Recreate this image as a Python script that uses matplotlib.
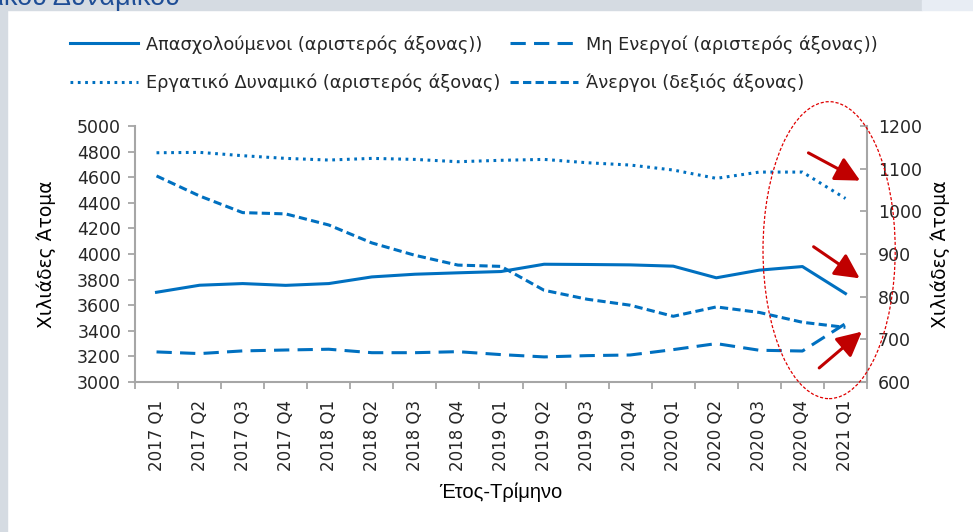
import matplotlib
matplotlib.use("Agg")
import matplotlib.pyplot as plt
from matplotlib.patches import Ellipse, Rectangle
import numpy as np

# --- datos (miles de personas) ---
quarters = ["2017 Q1", "2017 Q2", "2017 Q3", "2017 Q4",
            "2018 Q1", "2018 Q2", "2018 Q3", "2018 Q4",
            "2019 Q1", "2019 Q2", "2019 Q3", "2019 Q4",
            "2020 Q1", "2020 Q2", "2020 Q3", "2020 Q4", "2021 Q1"]
employed = [3701, 3756, 3769, 3755, 3769, 3821, 3842, 3853, 3863,
            3920, 3918, 3915, 3905, 3814, 3874, 3902, 3691]
labour_force = [4791, 4794, 4768, 4747, 4734, 4747, 4739, 4721, 4732,
                4739, 4713, 4695, 4656, 4591, 4640, 4640, 4434]
inactive = [3235, 3222, 3243, 3250, 3256, 3229, 3229, 3237, 3214,
            3196, 3206, 3211, 3253, 3300, 3248, 3242, 3456]
unemployed = [1083, 1036, 997, 994, 968, 926, 897, 874, 871,
              815, 794, 780, 754, 776, 763, 740, 728]

BLUE = "#0070c0"
RED = "#c00000"
GREY = "#a6a6a6"
TXT = "#262626"

plt.rcParams["font.family"] = ["DejaVu Sans"]
plt.rcParams["text.color"] = TXT

fig = plt.figure(figsize=(9.73, 5.32), dpi=100)
W, H = 973, 532

# marco de la página (franjas grises)
fig.patches.append(Rectangle((0, 1 - 10 / H), 922 / W, 10 / H, transform=fig.transFigure,
                             color="#d5dbe2", zorder=0))
fig.patches.append(Rectangle((922 / W, 1 - 10 / H), 1, 10 / H, transform=fig.transFigure,
                             color="#e8edf4", zorder=0))
fig.patches.append(Rectangle((0, 0), 7 / W, 1, transform=fig.transFigure,
                             color="#d5dbe2", zorder=0))
fig.text(180 / W, 1 - 5 / H, "Εργατικού Δυναμικού", ha="right", va="baseline",
         fontsize=19.5, color="#1f4e96", family=["Liberation Sans", "DejaVu Sans"])

ax = fig.add_axes([135 / W, 1 - 382 / H, (867 - 135) / W, (382 - 126) / H])
ax2 = ax.twinx()

x = np.arange(len(quarters))
lw = 2.2
l1, = ax.plot(x, employed, color=BLUE, lw=lw, solid_joinstyle="round",
              label="Απασχολούμενοι (αριστερός άξονας))")
l2, = ax.plot(x, inactive, color=BLUE, lw=lw, dashes=(5, 2.7),
              label="Μη Ενεργοί (αριστερός άξονας))")
l3, = ax.plot(x, labour_force, color=BLUE, lw=lw, dashes=(0.9, 1.5),
              label="Εργατικό Δυναμικό (αριστερός άξονας)")
l4, = ax2.plot(x, unemployed, color=BLUE, lw=lw, dashes=(2.7, 1.4),
               label="Άνεργοι (δεξιός άξονας)")

ax.set_xlim(-0.5, len(quarters) - 0.5)
ax.set_ylim(3000, 5000)
ax.set_yticks(np.arange(3000, 5001, 200))
ax2.set_ylim(600, 1200)
ax2.set_yticks(np.arange(600, 1201, 100))

ax.set_xticks(x)
ax.set_xticklabels(quarters, rotation=90, fontsize=12)
ax.set_xticks(np.arange(-0.5, len(quarters), 1), minor=True)
ax.tick_params(axis="x", which="major", length=0, pad=13, colors=TXT)
ax.tick_params(axis="x", which="minor", length=5, width=1.3, color=GREY, direction="out")
ax.tick_params(axis="y", length=5, width=1.3, color=GREY, labelsize=12.5, labelcolor=TXT, pad=5)
ax2.tick_params(axis="y", length=5, width=1.3, color=GREY, direction="in",
                labelsize=12.5, labelcolor=TXT, pad=8)

for a in (ax, ax2):
    for s in a.spines.values():
        s.set_visible(False)
ax.spines["left"].set_visible(True)
ax.spines["bottom"].set_visible(True)
ax2.spines["right"].set_visible(True)
for s in (ax.spines["left"], ax.spines["bottom"], ax2.spines["right"]):
    s.set_color(GREY)
    s.set_linewidth(1.5)

ax.set_ylabel("Χιλιάδες Άτομα", fontsize=13.5, labelpad=15)
ax2.set_ylabel("Χιλιάδες Άτομα", fontsize=13.5, labelpad=6)
ax.set_xlabel("Έτος-Τρίμηνο", fontsize=14.5, labelpad=8,
              family=["Liberation Sans Narrow", "Liberation Sans", "DejaVu Sans"])

leg = fig.legend(handles=[l1, l3, l2, l4], ncol=2, frameon=False, fontsize=12.8,
                 loc="upper left", bbox_to_anchor=(70 / W, 1 - 35 / H),
                 borderpad=0, borderaxespad=0, handlelength=3.85, handletextpad=0.45,
                 columnspacing=0.5, labelspacing=1.12)

# anotación: elipse y flechas rojas
ax2.add_patch(Ellipse((15.62, 909), 3.07, 696, fill=False, ec="#e00000", lw=0.9,
                      ls=(0, (2.5, 1.5)), clip_on=False, zorder=5))
arrows = [((15.14, 1137), (16.34, 1072)),
          ((15.26, 917), (16.33, 843)),
          ((15.39, 633), (16.38, 718))]
for tail, tip in arrows:
    ax2.annotate("", xy=tip, xytext=tail, annotation_clip=False,
                 arrowprops=dict(arrowstyle="-|>,head_length=0.75,head_width=0.38",
                                 mutation_scale=20, color=RED, lw=2.2,
                                 shrinkA=0, shrinkB=0))

fig.savefig("out.png", dpi=100)
